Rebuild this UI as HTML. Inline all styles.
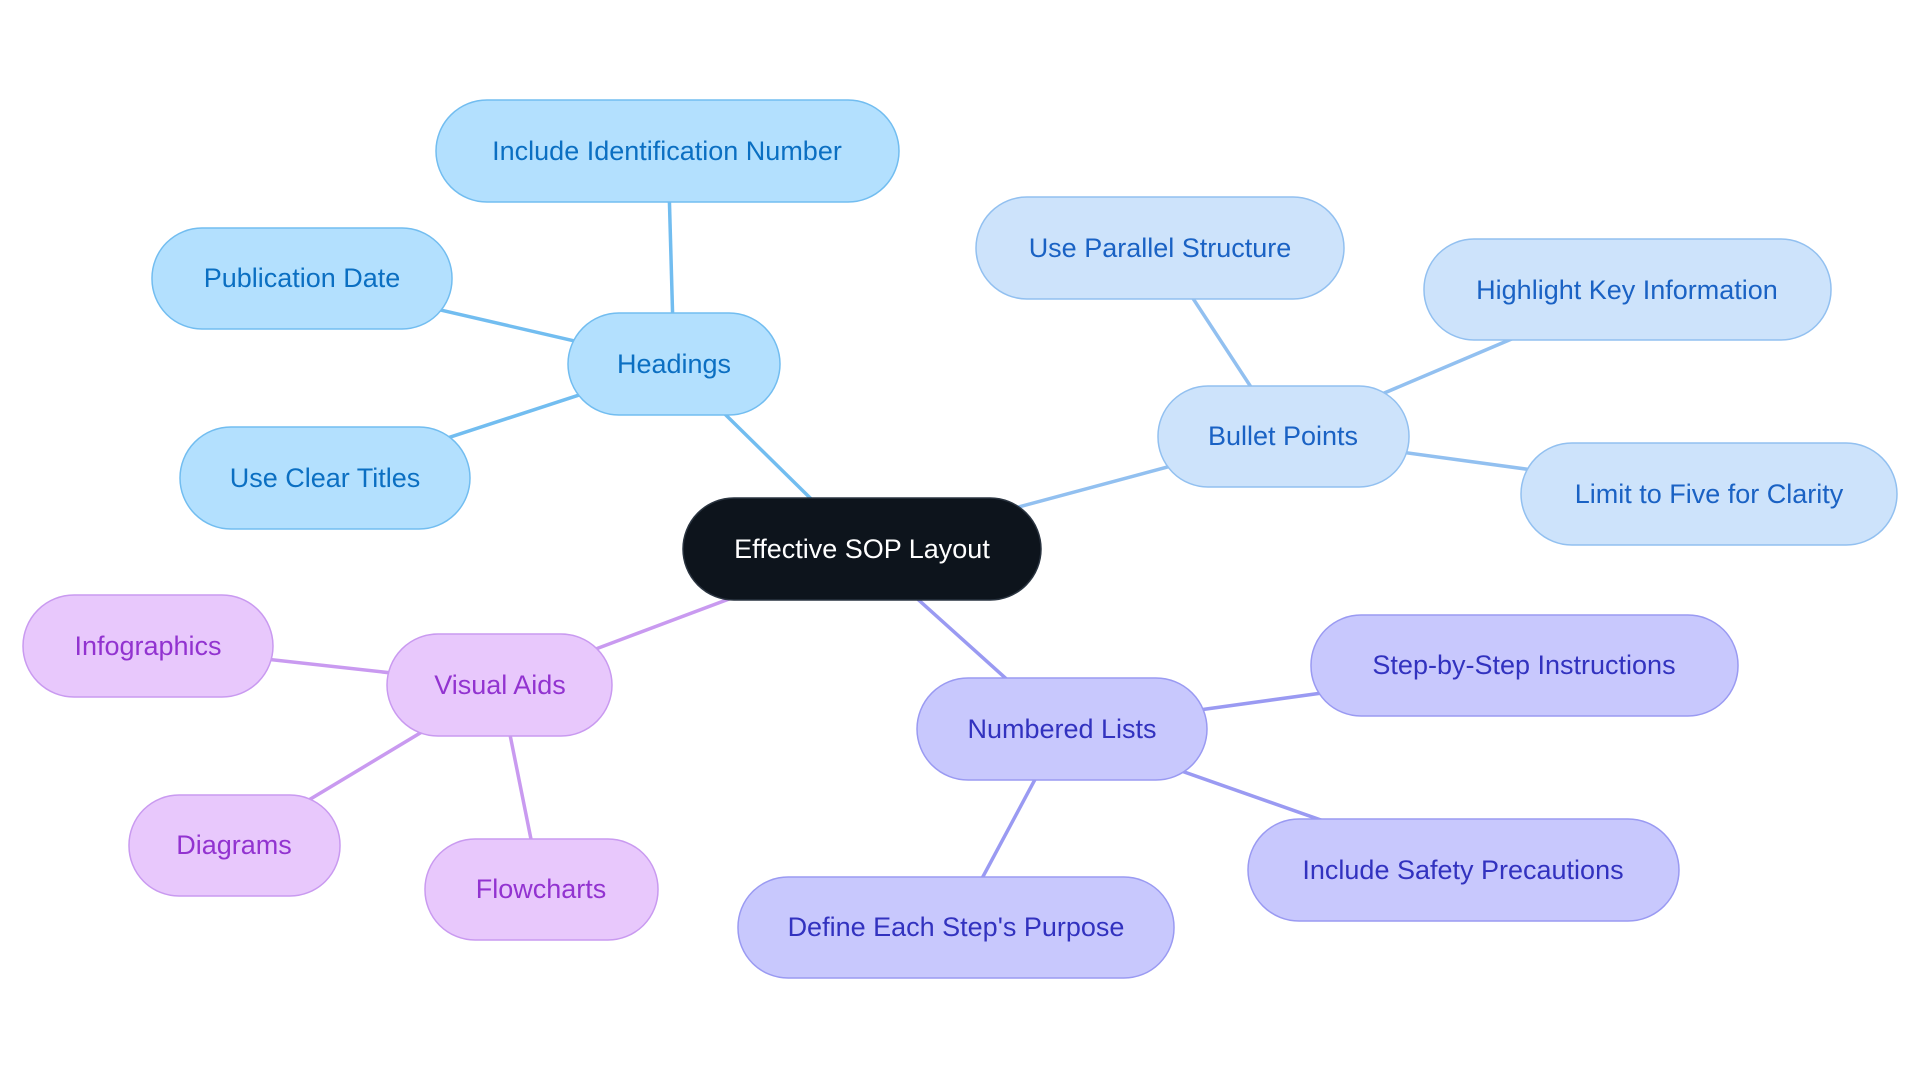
<!DOCTYPE html>
<html><head><meta charset="utf-8"><style>
html,body{margin:0;padding:0;background:#fff;}
svg{display:block}
text{font-family:"Liberation Sans",sans-serif;font-size:27px;text-anchor:middle;dominant-baseline:central}
</style></head><body>
<svg width="1920" height="1083" viewBox="0 0 1920 1083" xmlns="http://www.w3.org/2000/svg">
<g stroke-width="3.5" fill="none">
<g stroke="#72bdf0">
<line x1="862" y1="549" x2="674" y2="364"/>
<line x1="674" y1="364" x2="668" y2="151"/>
<line x1="674" y1="364" x2="302" y2="278"/>
<line x1="674" y1="364" x2="325" y2="478"/>
</g>
<g stroke="#92c0f0">
<line x1="862" y1="549" x2="1283" y2="436"/>
<line x1="1283" y1="436" x2="1160" y2="248"/>
<line x1="1283" y1="436" x2="1627" y2="290"/>
<line x1="1283" y1="436" x2="1709" y2="494"/>
</g>
<g stroke="#9a9af2">
<line x1="862" y1="549" x2="1062" y2="729"/>
<line x1="1062" y1="729" x2="1524" y2="665"/>
<line x1="1062" y1="729" x2="1463" y2="870"/>
<line x1="1062" y1="729" x2="956" y2="927"/>
</g>
<g stroke="#c99af0">
<line x1="862" y1="549" x2="500" y2="685"/>
<line x1="500" y1="685" x2="148" y2="646"/>
<line x1="500" y1="685" x2="234" y2="845"/>
<line x1="500" y1="685" x2="541" y2="889"/>
</g>
</g>
<g stroke-width="1.5">
<rect x="683" y="498" width="358" height="102" rx="51" fill="#0d141c" stroke="#2a3440"/>
<g fill="#b3e0fe" stroke="#72bdf0">
<rect x="568" y="313" width="212" height="102" rx="51"/>
<rect x="436" y="100" width="463" height="102" rx="51"/>
<rect x="152" y="228" width="300" height="101" rx="50"/>
<rect x="180" y="427" width="290" height="102" rx="51"/>
</g>
<g fill="#cde3fb" stroke="#92c0f0">
<rect x="1158" y="386" width="251" height="101" rx="50"/>
<rect x="976" y="197" width="368" height="102" rx="51"/>
<rect x="1424" y="239" width="407" height="101" rx="50"/>
<rect x="1521" y="443" width="376" height="102" rx="51"/>
</g>
<g fill="#c8c8fd" stroke="#9a9af2">
<rect x="917" y="678" width="290" height="102" rx="51"/>
<rect x="1311" y="615" width="427" height="101" rx="50"/>
<rect x="1248" y="819" width="431" height="102" rx="51"/>
<rect x="738" y="877" width="436" height="101" rx="50"/>
</g>
<g fill="#e8c8fc" stroke="#c99af0">
<rect x="387" y="634" width="225" height="102" rx="51"/>
<rect x="23" y="595" width="250" height="102" rx="51"/>
<rect x="129" y="795" width="211" height="101" rx="50"/>
<rect x="425" y="839" width="233" height="101" rx="50"/>
</g>
</g>
<text x="862" y="549" fill="#ffffff">Effective SOP Layout</text>
<g fill="#0b6fc2">
<text x="674" y="364">Headings</text>
<text x="667" y="151">Include Identification Number</text>
<text x="302" y="278">Publication Date</text>
<text x="325" y="478">Use Clear Titles</text>
</g>
<g fill="#1a62c4">
<text x="1283" y="436">Bullet Points</text>
<text x="1160" y="248">Use Parallel Structure</text>
<text x="1627" y="290">Highlight Key Information</text>
<text x="1709" y="494">Limit to Five for Clarity</text>
</g>
<g fill="#3232bf">
<text x="1062" y="729">Numbered Lists</text>
<text x="1524" y="665">Step-by-Step Instructions</text>
<text x="1463" y="870">Include Safety Precautions</text>
<text x="956" y="927">Define Each Step's Purpose</text>
</g>
<g fill="#9233d0">
<text x="500" y="685">Visual Aids</text>
<text x="148" y="646">Infographics</text>
<text x="234" y="845">Diagrams</text>
<text x="541" y="889">Flowcharts</text>
</g>
</svg>
</body></html>
